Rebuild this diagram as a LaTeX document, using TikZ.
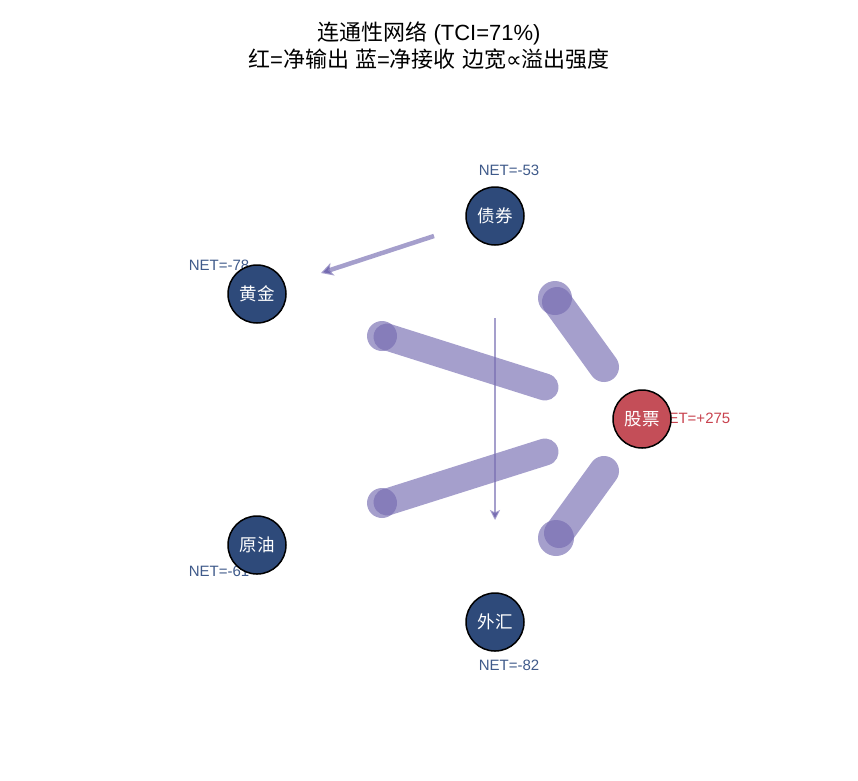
\documentclass[tikz,border=0pt]{standalone}
\usepackage{fontspec}
\setmainfont{Liberation Sans}
\newfontfamily\cjk{Noto Sans CJK SC}
\newfontfamily\symf{DejaVu Sans}
\usetikzlibrary{arrows.meta}
\definecolor{edgec}{RGB}{117,107,177}
\definecolor{recv}{RGB}{46,74,122}
\definecolor{send}{RGB}{196,78,88}
\definecolor{netblue}{RGB}{63,90,138}
\definecolor{netred}{RGB}{200,66,78}
\tikzset{
  mkt/.style={circle,draw=black,line width=1.5pt,minimum size=58pt,inner sep=0pt,text=white,font=\cjk\fontsize{17.5}{19}\selectfont},
  recvn/.style={mkt,fill=recv},
  sendn/.style={mkt,fill=send},
  netlab/.style={font=\fontsize{15}{17}\selectfont,inner sep=0pt},
  fat/.style={draw=edgec,draw opacity=0.65,line cap=round},
  blob/.style={fill=edgec,fill opacity=0.65},
  thin/.style={draw=edgec,draw opacity=0.65}
}
\begin{document}
\begin{tikzpicture}[x=1pt,y=-1pt]
\useasboundingbox (0,0) rectangle (858,780);
\node[font=\fontsize{22}{24}\selectfont] (t1) at (429,33) {{\cjk 连通性网络} (TCI=71\%)};
\node[font=\fontsize{22}{24}\selectfont] (t2) at (429,59) {{\cjk 红}={\cjk 净输出} {\cjk 蓝}={\cjk 净接收} {\cjk 边宽}{\symf ∝}{\cjk 溢出强度}};
% NET labels
\node[netlab,text=netblue] (lb) at (509,170) {NET=-53};
\node[netlab,text=netblue] (lg) at (219,265) {NET=-78};
\node[netlab,text=netblue] (lo) at (219,571) {NET=-61};
\node[netlab,text=netblue] (lf) at (509,665) {NET=-82};
\node[netlab,text=netred] (ls) at (694,418) {NET=+275};
% edge anchor coordinates
\coordinate (s1) at (604,367); \coordinate (e1) at (557,302); \coordinate (b1) at (555,298);
\coordinate (s2) at (545,387); \coordinate (e2) at (387,337); \coordinate (b2) at (382,336);
\coordinate (s3) at (545,452); \coordinate (e3) at (387,502); \coordinate (b3) at (382,503);
\coordinate (s4) at (604,471); \coordinate (e4) at (559,533); \coordinate (b4) at (556,538);
\coordinate (s5) at (434,236); \coordinate (e5) at (321,273);
\coordinate (s6) at (495,318); \coordinate (e6) at (495,520);
\draw[fat,line width=30pt] (s1) -- (e1);
\fill[blob] (b1) circle (17);
\draw[fat,line width=27pt] (s2) -- (e2);
\fill[blob] (b2) circle (15);
\draw[fat,line width=27pt] (s3) -- (e3);
\fill[blob] (b3) circle (15);
\draw[fat,line width=30pt] (s4) -- (e4);
\fill[blob] (b4) circle (18);
\draw[thin,line width=4.5pt,-{Stealth[length=12pt,width=13pt,inset=3pt]}] (s5) -- (e5);
\draw[thin,line width=2.5pt,-{Stealth[length=10pt,width=10pt,inset=2.5pt]}] (s6) -- (e6);
% nodes
\node[recvn] (bond) at (495,216) {债券};
\node[recvn] (gold) at (257,294) {黄金};
\node[recvn] (oil) at (257,545) {原油};
\node[recvn] (fx) at (495,622) {外汇};
\node[sendn] (stock) at (642,419) {股票};
\end{tikzpicture}
\end{document}
